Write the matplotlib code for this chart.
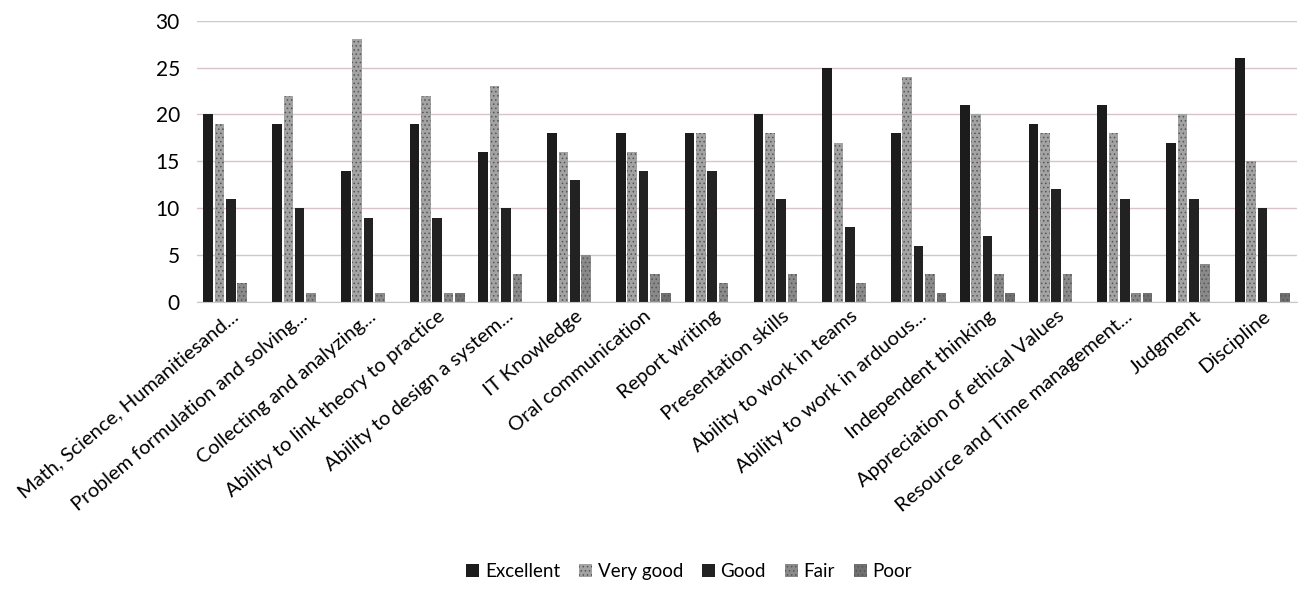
import numpy as np
import matplotlib.pyplot as plt

plt.rcParams['font.family'] = ['Lato', 'DejaVu Sans']
plt.rcParams['hatch.linewidth'] = 0.6

categories = ["Math, Science, Humanitiesand...", "Problem formulation and solving...",
              "Collecting and analyzing...", "Ability to link theory to practice",
              "Ability to design a system...", "IT Knowledge", "Oral communication",
              "Report writing", "Presentation skills", "Ability to work in teams",
              "Ability to work in arduous...", "Independent thinking",
              "Appreciation of ethical Values", "Resource and Time management...",
              "Judgment", "Discipline"]

excellent = [20, 19, 14, 19, 16, 18, 18, 18, 20, 25, 18, 21, 19, 21, 17, 26]
very_good = [19, 22, 28, 22, 23, 16, 16, 18, 18, 17, 24, 20, 18, 18, 20, 15]
good      = [11, 10, 9, 9, 10, 13, 14, 14, 11, 8, 6, 7, 12, 11, 11, 10]
fair      = [2, 1, 1, 1, 3, 5, 3, 2, 3, 2, 3, 3, 3, 1, 4, 0]
poor      = [0, 0, 0, 1, 0, 0, 1, 0, 0, 0, 1, 1, 0, 1, 0, 1]

series = [("Excellent", excellent, "#1c1c1c", None),
          ("Very good", very_good, "#a3a3a3", "...."),
          ("Good", good, "#222222", None),
          ("Fair", fair, "#8a8a8a", "...."),
          ("Poor", poor, "#707070", "....")]

fig = plt.figure(figsize=(13.1, 5.92), dpi=100)
ax = fig.add_axes([0.15, 0.49, 0.84, 0.475])

x = np.arange(len(categories))
w = 0.14
step = 0.165
for i, (name, vals, col, hatch) in enumerate(series):
    ax.bar(x + (i - 2) * step, vals, w, color=col, label=name,
           hatch=hatch, edgecolor="#555555" if hatch else col, linewidth=0)

ax.set_ylim(0, 30)
ax.set_xlim(-0.5, len(categories) - 0.5)
ax.set_yticks([0, 5, 10, 15, 20, 25, 30])
ax.yaxis.grid(True, color="#d8c4c8", linewidth=1)
ax.set_axisbelow(True)
for s in ["top", "right", "left"]:
    ax.spines[s].set_visible(False)
ax.spines["bottom"].set_color("#c8c8c8")
ax.tick_params(axis="y", length=0, labelsize=15, pad=12)
ax.tick_params(axis="x", length=0, labelsize=14.5, pad=4)
ax.set_xticks(x)
ax.set_xticklabels(categories, rotation=40, ha="right", rotation_mode="anchor")

fig.legend(loc="center", bbox_to_anchor=(0.526, 0.035), ncol=5, frameon=False,
           fontsize=13.5, handlelength=0.7, handleheight=0.7, handletextpad=0.3,
           columnspacing=1.0)

fig.savefig("out.png", dpi=100)
